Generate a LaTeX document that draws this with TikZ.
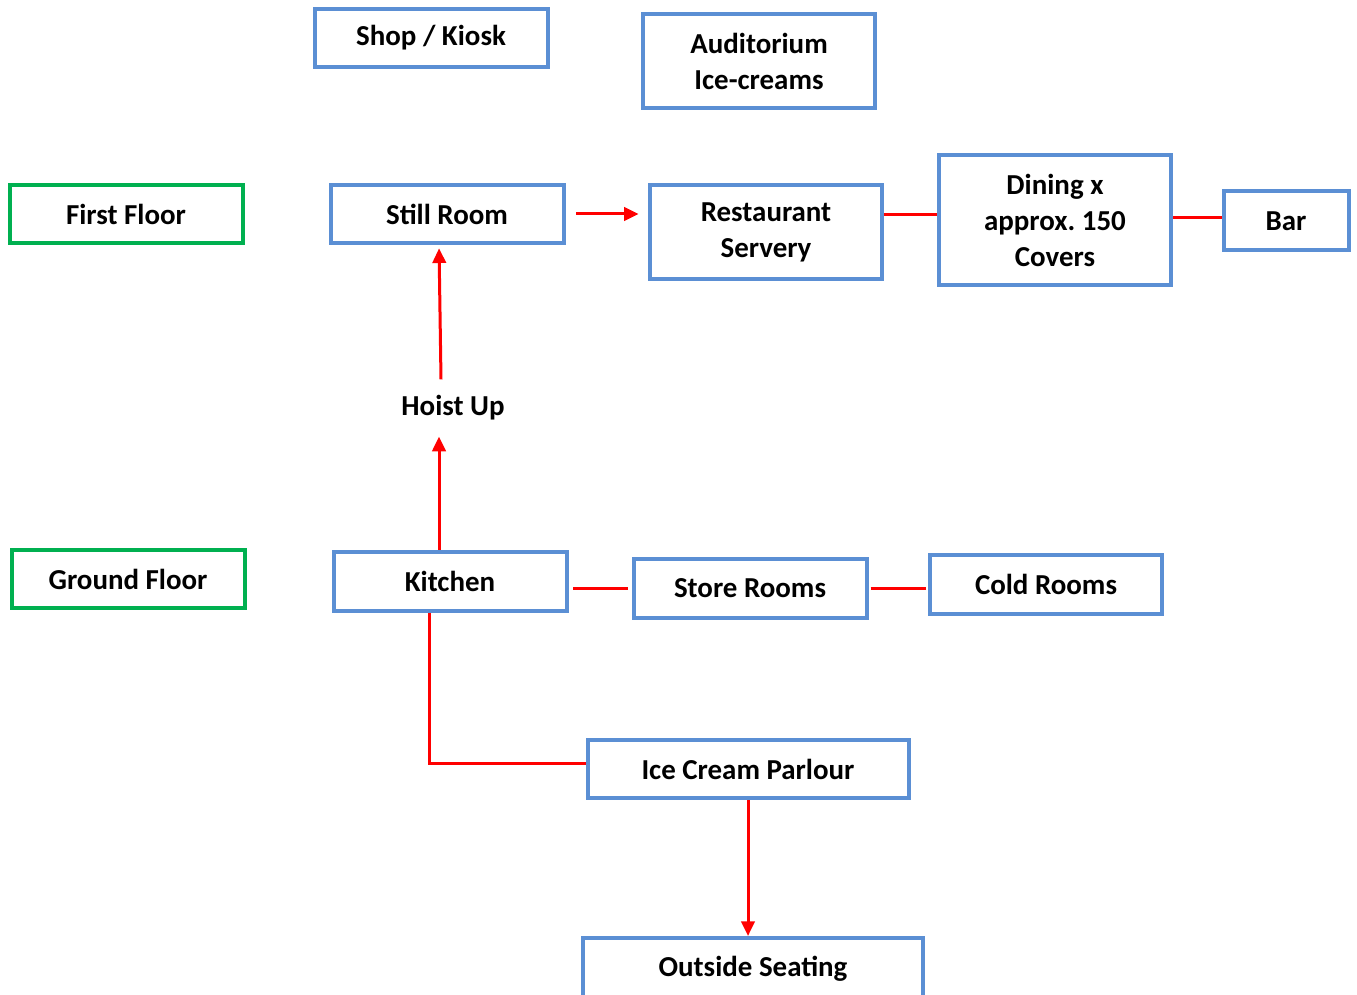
\documentclass[tikz,border=0pt]{standalone}
\usepackage{fontspec}
\setmainfont{Carlito}
\usetikzlibrary{arrows.meta}
\frenchspacing

\definecolor{boxblue}{RGB}{91,143,212}
\definecolor{floorgreen}{RGB}{0,176,80}

\begin{document}
\begin{tikzpicture}[
                x=0.75pt,y=-0.75pt,
                line width=2.25pt,
                every node/.style={font=\bfseries\fontsize{21.7pt}{27pt}\selectfont,text=black,align=center,inner sep=0pt},
                bluebox/.style={draw=boxblue,line width=3pt,minimum width=174.75pt,minimum height=43.5pt},
                floorbox/.style={draw=floorgreen,line width=3pt,minimum width=174.75pt,minimum height=43.5pt},
                link/.style={red,line width=2.25pt},
                flow/.style={red,line width=2.25pt,-{Triangle[length=11pt,width=10pt]}}] %

\useasboundingbox (0,0) rectangle (1357,995);

                    % top
                    \node[bluebox] (SHOP) at (431,38) {Shop / Kiosk};
                    \node[bluebox,minimum width=174pt,minimum height=70.5pt] (AUDIT) at (759,61) {Auditorium\\Ice-creams};

                    % first floor
                    \node[floorbox] (FIRST) at (126,214) {First Floor};
                    \node[bluebox] (STILL) at (447,214) {Still Room};
                    \node[bluebox,minimum width=174pt,minimum height=70.5pt] (SERVE) at (766,232) {Restaurant\\Servery};
                    \node[bluebox,minimum width=174pt,minimum height=97.5pt] (DINE) at (1055,220) {Dining x\\approx. 150\\Covers};
                    \node[bluebox,minimum width=93.75pt,minimum height=44.25pt] (BAR) at (1286,221) {Bar};

                    \draw [flow, shorten <=8pt, shorten >=7pt] (STILL.east) -- (STILL.east -| SERVE.west);
                    \draw [link] ([yshift=3.75pt]DINE.west -| SERVE.east) -- ([yshift=3.75pt]DINE.west);
                    \draw [link] ([yshift=1.5pt]DINE.east) -- ([yshift=1.5pt]DINE.east -| BAR.west);

                    % hoist
                    \node[inner sep=11pt] (HOIST) at (453,408) {Hoist Up};

                    % ground floor
                    \node[floorbox] (GROUND) at (128,579) {Ground Floor};
                    \node[bluebox,minimum height=44.25pt] (KITCH) at (450,581) {Kitchen};
                    \node[bluebox,minimum height=44.25pt] (STORE) at (750,588) {Store Rooms};
                    \node[bluebox,minimum width=174pt,minimum height=44.25pt] (COLD) at (1046,584) {Cold Rooms};

                    \draw [flow] ([xshift=-8.25pt]KITCH.north) -- ([xshift=-8.25pt]KITCH.north |- HOIST.south);
                    \draw [flow, shorten >=2.5pt] ([xshift=-9pt]HOIST.north) -- ([xshift=-6pt]STILL.south);
                    \draw [link, shorten <=3.5pt, shorten >=2.5pt] (STORE.west -| KITCH.east) -- (STORE.west);
                    \draw [link, shorten <=1.5pt, shorten >=1.5pt] (STORE.east) -- (STORE.east -| COLD.west);

                    % parlour
                    \node[bluebox,minimum width=240.75pt] (PARL) at (748,769) {Ice Cream Parlour};
                    \node[bluebox,minimum width=255pt,minimum height=46.5pt] (OUTS) at (753,969) {Outside Seating};

                    \draw [link] ([xshift=-15.75pt]KITCH.south) |- ([yshift=4.5pt]PARL.west);
                    \draw [flow] (PARL.south) -- (PARL.south |- OUTS.north);

%%%%%%%%%%%%%%%%%%%%%%%%%%%%%%%%%%%%%%%%%%%%%%%%%%%%%%%%%%%%%%%%%%%%%%%%%%%%%%%%%%%%

\end{tikzpicture}
\end{document}
